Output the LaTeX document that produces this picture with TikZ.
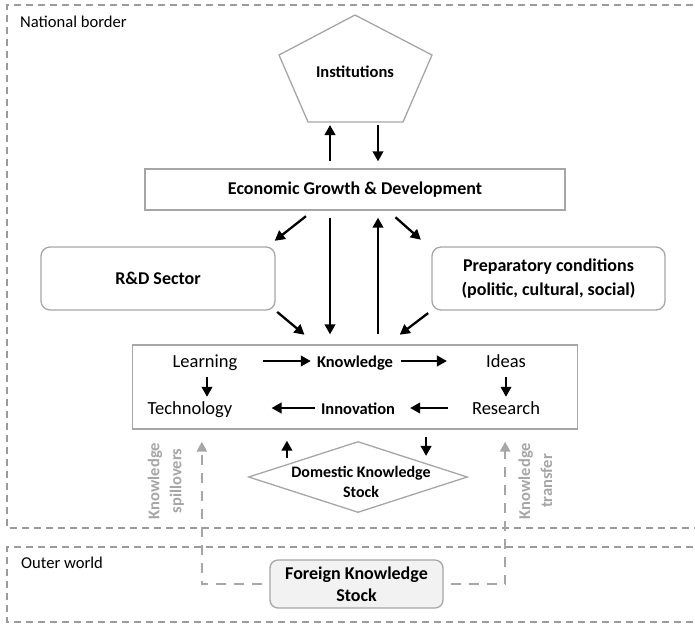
\documentclass[tikz,border=0pt]{standalone}
\usepackage{fontspec}
\setmainfont{Carlito}
\usepackage{tikz}
\usetikzlibrary{arrows.meta,shapes.geometric}
\usetikzlibrary{positioning}
\definecolor{bordergray}{HTML}{9B9B9B}
\definecolor{boxgray}{HTML}{A6A6A6}
\definecolor{fillgray}{HTML}{F2F2F2}

\begin{document}
\begin{tikzpicture}[x=1pt,y=-1pt,
	border/.style={draw=bordergray,line width=1.6pt,dash pattern=on 7pt off 5pt},
	box/.style={draw=boxgray,line width=1.3pt,inner sep=0pt,align=center,font=\bfseries\fontsize{18}{24}\selectfont},
	rbox/.style={box,rounded corners=9pt},
	txt/.style={inner sep=0pt,anchor=base,text height=15pt,text depth=3pt,font=\fontsize{18.5}{22}\selectfont},
	btxt/.style={txt,font=\bfseries\fontsize{16.5}{22}\selectfont},
	arr/.style={-{Triangle[length=10pt,width=10.5pt]},line width=2.3pt},
	garr/.style={draw=boxgray,-{Triangle[length=10pt,width=10pt]},line width=2.6pt,dash pattern=on 10pt off 8pt},
	glabel/.style={text=boxgray,inner sep=0pt,align=center,rotate=90,font=\bfseries\fontsize{16.5}{22}\selectfont}]

	\useasboundingbox (0,0) rectangle (695,625);
	\draw[border] (705,5) -- (7,5) -- (7,528) -- (705,528);
	\draw[border] (705,547) -- (7,547) -- (7,622) -- (705,622);
	\node[right,inner sep=0pt,font=\fontsize{16.6}{20}\selectfont] (natl) at (20,22) {National border};
	\node[right,inner sep=0pt,font=\fontsize{16.6}{20}\selectfont] (outer) at (21,563) {Outer world};

	\draw[boxgray,line width=1.3pt] (355,15) -- (432,55) -- (403,122) -- (308,122) -- (279,55) -- cycle;
	\coordinate (pbot) at (355,122);
	\node[font=\bfseries\fontsize{16.5}{20}\selectfont] (inst) at (355,72) {Institutions};

	\node[box,minimum width=420pt,minimum height=41pt] (egd) at (355,189.5) {Economic Growth \& Development};
	\node[rbox,minimum width=234pt,minimum height=63pt] (rd) at (158,278.5) {R\&D Sector};
	\node[rbox,minimum width=233pt,minimum height=63pt] (prep) at (548.5,278.5) {Preparatory conditions\\(politic, cultural, social)};

	\node[box,minimum width=445pt,minimum height=84pt] (kb) at (355,387) {};
	\node[txt] (learn) at (205,367) {Learning};
	\node[btxt] (know) at (355,367) {Knowledge};
	\node[txt] (ideas) at (506,367) {Ideas};
	\node[txt] (tech) at (190,414) {Technology};
	\node[btxt] (innov) at (358,414) {Innovation};
	\node[txt] (res) at (506,414) {Research};

	\node[diamond,draw=boxgray,line width=1.3pt,minimum width=219pt,minimum height=71pt,inner sep=0pt] (dks) at (358,477) {};
	\node[align=center,font=\bfseries\fontsize{16}{20}\selectfont] (dkstxt) at (361,482) {Domestic Knowledge\\Stock};

	\node[rbox,rounded corners=8pt,fill=fillgray,minimum width=173pt,minimum height=48pt,font=\bfseries\fontsize{18}{22}\selectfont] (fks) at (356.5,584) {Foreign Knowledge\\Stock};

	\node[glabel] (spill) at (166,481) {Knowledge\\spillovers};
	\node[glabel] (transf) at (535.5,481) {Knowledge\\transfer};

	\draw[arr,shorten <=7pt,shorten >=3pt] ([xshift=-25pt]egd.north) -- ([xshift=-25pt]pbot);
	\draw[arr,shorten <=3pt,shorten >=7pt] ([xshift=23pt]pbot) -- ([xshift=23pt]egd.north);

	\draw[arr,shorten <=9pt,shorten >=9pt] ([xshift=-42pt]egd.south) -- ([xshift=-8pt]rd.north east);
	\draw[arr,shorten <=10pt,shorten >=10pt] ([xshift=33pt]egd.south) -- ([xshift=-3pt]prep.north west);
	\draw[arr,shorten <=7pt,shorten >=10pt] ([xshift=-25pt]egd.south) -- ([xshift=-25pt]kb.north);
	\draw[arr,shorten <=10pt,shorten >=7pt] ([xshift=23pt]kb.north) -- ([xshift=23pt]egd.south);
	\draw[arr,shorten <=2pt,shorten >=15pt] (rd.south east) -- ([xshift=-39pt]kb.north);
	\draw[arr,shorten <=4pt,shorten >=16pt] (prep.south west) -- ([xshift=32pt]kb.north);

	\draw[arr,shorten <=25pt,shorten >=6pt] (learn.east) -- (know.west);
	\draw[arr,shorten <=8pt,shorten >=39pt] (know.east) -- (ideas.west);
	\draw[arr,shorten <=7pt,shorten >=2pt] (ideas.south) -- (ideas.south |- res.north);
	\draw[arr,shorten <=7pt,shorten >=2pt] ([xshift=2pt]learn.south) -- ([xshift=2pt]learn.south |- tech.north);
	\draw[arr,shorten <=24pt,shorten >=15pt] (res.west) -- (innov.east);
	\draw[arr,shorten <=6pt,shorten >=39pt] (innov.west) -- (tech.east);

	\coordinate (up1) at ([xshift=-16pt]dks.north west);
	\coordinate (dn1) at ([xshift=13pt,yshift=3pt]dks.north east);
	\draw[arr,shorten <=1pt,shorten >=11pt] (up1) -- (up1 |- kb.south);
	\draw[arr,shorten <=7pt] (dn1 |- kb.south) -- (dn1);

	\draw[garr,shorten <=7pt,shorten >=12pt] (fks.west) -| ([xshift=70pt]kb.south west);
	\draw[garr,shorten <=7pt,shorten >=12pt] (fks.east) -| ([xshift=-73pt]kb.south east);
\end{tikzpicture}
\end{document}
